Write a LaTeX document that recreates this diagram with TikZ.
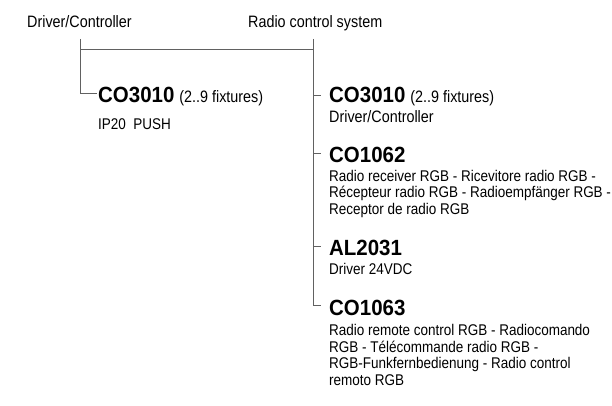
\documentclass[tikz,border=0pt]{standalone}
\usepackage{fontspec}
\usetikzlibrary{calc}
\newfontfamily\sansF{Liberation Sans}[FakeStretch=0.87]
\newfontfamily\boldF{Liberation Sans}[FakeStretch=0.93]
\newcommand\lblfont{\sansF\mdseries\fontsize{16.5}{16.5}\selectfont}
\newcommand\descfont{\sansF\mdseries\fontsize{15.5}{16.5}\selectfont}
\newcommand\codefont{\boldF\bfseries\fontsize{22}{22}\selectfont}
\newcommand\desclines[1]{\begin{tabular}[t]{@{}l@{}}#1\end{tabular}}
\tikzset{
  treeline/.style={draw=black!62, line width=0.9pt},
  lbl/.style={inner sep=0pt, anchor=base west, font=\lblfont},
  code/.style={inner sep=0pt, anchor=base west, font=\codefont},
  desc/.style={inner sep=0pt, anchor=base west, font=\descfont},
}
\begin{document}
\begin{tikzpicture}[x=1pt,y=-1pt]
\useasboundingbox (0,0) rectangle (612,406);
% top labels
\node[lbl] (tdc) at (27,27.5) {Driver/Controller};
\node[lbl] (trc) at (248,27.5) {Radio control system};
\coordinate (lt) at (80.7,39);
\coordinate (rt) at (313.3,39);
\coordinate (jl) at (80.7,49);
\coordinate (jr) at (313.3,49);
% left branch
\node[code] (lc) at (98,103) {CO3010\hspace{5pt}{\lblfont (2..9 fixtures)}};
\node[desc] (ld) at (98,130) {IP20\ \ PUSH};
% right branch
\node[code] (rc1) at (329,103) {CO3010\hspace{5pt}{\lblfont (2..9 fixtures)}};
\node[lbl] (rd1) at (329,123) {Driver/Controller};
\node[code] (rc2) at (329,162.5) {CO1062};
\node[desc] (rd2) at (329,181) {\desclines{Radio receiver RGB - Ricevitore radio RGB -\\Récepteur radio RGB - Radioempfänger RGB -\\Receptor de radio RGB}};
\node[code] (rc3) at (329,255.3) {AL2031};
\node[desc] (rd3) at (329,274) {Driver 24VDC};
\node[code] (rc4) at (329,315.3) {CO1063};
\node[desc] (rd4) at (329,335.5) {\desclines{Radio remote control RGB - Radiocomando\\RGB - Télécommande radio RGB -\\RGB-Funkfernbedienung - Radio control\\remoto RGB}};
% tick end points
\coordinate (tl)  at ($(lc.base west)+(-1.5,-9.5)$);
\coordinate (t1)  at ($(rc1.base west)+(-8,-8)$);
\coordinate (t2)  at ($(rc2.base west)+(-8,-9)$);
\coordinate (t3)  at ($(rc3.base west)+(-8,-8.5)$);
\coordinate (t4)  at ($(rc4.base west)+(-8,-10)$);
% connectors
\draw[treeline] (jl) -- (jr);
\draw[treeline] (lt) |- (tl);
\draw[treeline] (rt) |- (t4);
\draw[treeline] (rt |- t1) -- (t1);
\draw[treeline] (rt |- t2) -- (t2);
\draw[treeline] (rt |- t3) -- (t3);
\end{tikzpicture}
\end{document}
